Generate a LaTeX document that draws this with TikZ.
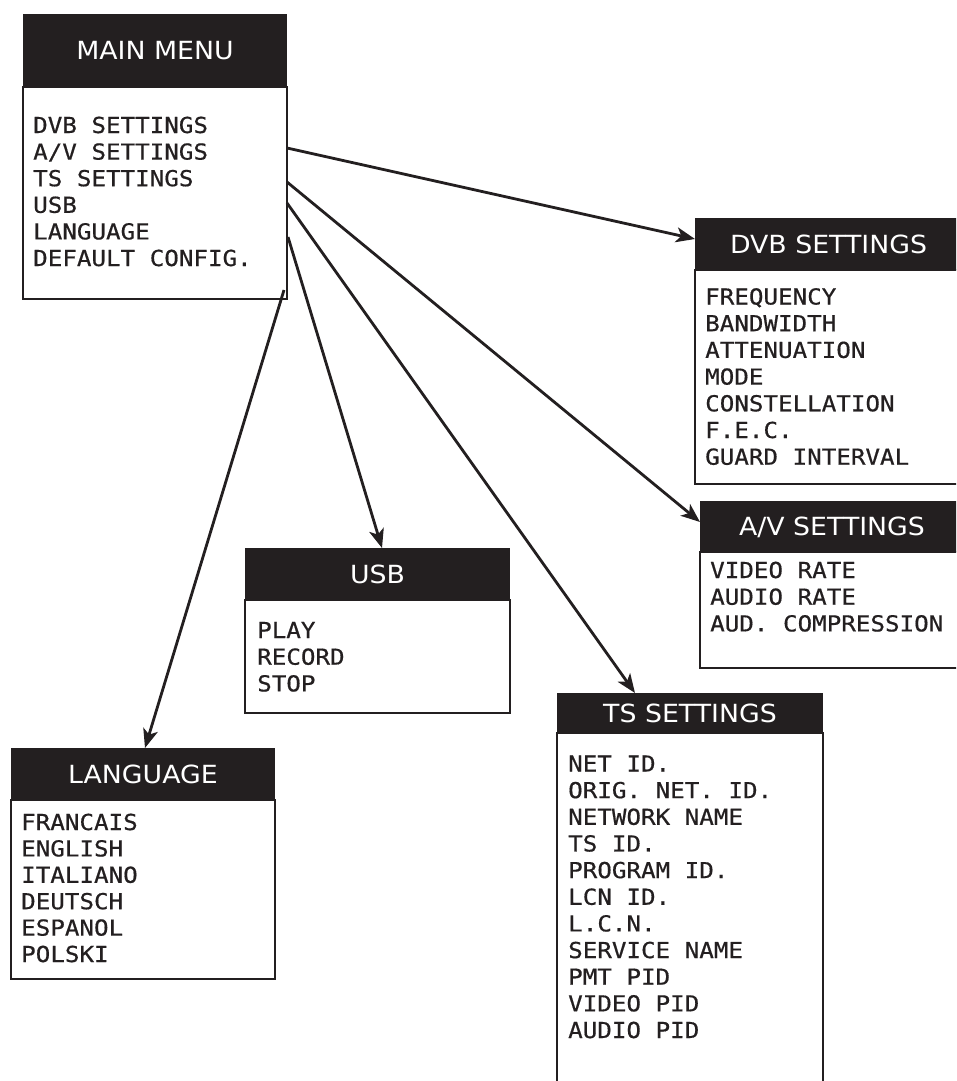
\documentclass[tikz,border=0pt]{standalone}
\usepackage{fontspec}
\usetikzlibrary{arrows.meta,calc}
\newfontfamily\hdrfont[FakeStretch=1.07]{DejaVu Sans}
\newfontfamily\lcdfont[FakeStretch=1.1,FakeBold=0.6]{DejaVu Sans Mono}
\definecolor{ink}{HTML}{231F20}
\begin{document}
\begin{tikzpicture}[x=1pt,y=-1pt,
  hdr/.style={fill=ink, text=white, font=\hdrfont\fontsize{25}{30}\selectfont, anchor=north west, inner sep=0pt, outer sep=0pt, text height=18pt, text depth=0pt},
  body/.style={draw=ink, line width=2.8pt, anchor=north west, inner sep=0pt, outer sep=0pt},
  item/.style={font=\lcdfont\fontsize{22}{26}\selectfont, text=ink, anchor=base west, inner sep=0pt},
  link/.style={draw=ink, line width=2.8pt, -{Stealth[length=19pt,width=15pt,inset=5pt]}}]
\useasboundingbox (0,0) rectangle (956,1081);
\clip (0,0) rectangle (956,1081);
% MAIN MENU
\node[body, minimum width=264pt, minimum height=212pt] (mainb) at (23,87) {};
\node[hdr, minimum width=264pt, minimum height=73pt] (mainh) at (23,14) {MAIN MENU};
\foreach \t [count=\i from 0] in {DVB SETTINGS, A/V SETTINGS, TS SETTINGS, USB, LANGUAGE, DEFAULT CONFIG.}
  \node[item] (main-\i) at (33,{133+\i*26.6}) {\t};
% DVB SETTINGS
\node[body, minimum width=267pt, minimum height=214pt] (dvbb) at (695,270) {};
\node[hdr, minimum width=267pt, minimum height=52pt] (dvbh) at (695,218) {DVB SETTINGS};
\foreach \t [count=\i from 0] in {FREQUENCY, BANDWIDTH, ATTENUATION, MODE, CONSTELLATION, F.E.C., GUARD INTERVAL}
  \node[item] (dvb-\i) at (705,{304.5+\i*26.7}) {\t};
% A/V SETTINGS
\node[body, minimum width=264pt, minimum height=116pt] (avb) at (700,552) {};
\node[hdr, minimum width=264pt, minimum height=51pt] (avh) at (700,501) {A/V SETTINGS};
\foreach \t [count=\i from 0] in {VIDEO RATE, AUDIO RATE, AUD. COMPRESSION}
  \node[item] (av-\i) at (710,{578+\i*26.7}) {\t};
% USB
\node[body, minimum width=265pt, minimum height=113pt] (usbb) at (245,600) {};
\node[hdr, minimum width=265pt, minimum height=52pt] (usbh) at (245,548) {USB};
\foreach \t [count=\i from 0] in {PLAY, RECORD, STOP}
  \node[item] (usb-\i) at (257,{638+\i*26.7}) {\t};
% TS SETTINGS
\node[body, minimum width=266pt, minimum height=360pt] (tsb) at (557,733) {};
\node[hdr, minimum width=266pt, minimum height=40pt] (tsh) at (557,693) {TS SETTINGS};
\foreach \t [count=\i from 0] in {NET ID., ORIG. NET. ID., NETWORK NAME, TS ID., PROGRAM ID., LCN ID., L.C.N., SERVICE NAME, PMT PID, VIDEO PID, AUDIO PID}
  \node[item] (ts-\i) at (568,{771.5+\i*26.65}) {\t};
% LANGUAGE
\node[body, minimum width=264pt, minimum height=179pt] (langb) at (11,800) {};
\node[hdr, minimum width=264pt, minimum height=52pt] (langh) at (11,748) {LANGUAGE};
\foreach \t [count=\i from 0] in {FRANCAIS, ENGLISH, ITALIANO, DEUTSCH, ESPANOL, POLSKI}
  \node[item] (lang-\i) at (21,{830+\i*26.4}) {\t};
% connectors
\draw[link] ($(mainb.north east)+(0,61)$) -- ($(dvbh.north west)+(0,21)$);
\draw[link] ($(mainb.north east)+(0,95)$) -- ($(avh.north west)+(0,21)$);
\draw[link] ($(mainb.north east)+(0,116)$) -- ($(tsh.north west)+(78,0)$);
\draw[link] ($(mainb.north east)+(1,150)$) -- ($(usbh.north west)+(137,0)$);
\draw[link] ($(mainb.south east)+(-3,-9)$) -- ($(langh.north west)+(134,0)$);
\end{tikzpicture}
\end{document}
